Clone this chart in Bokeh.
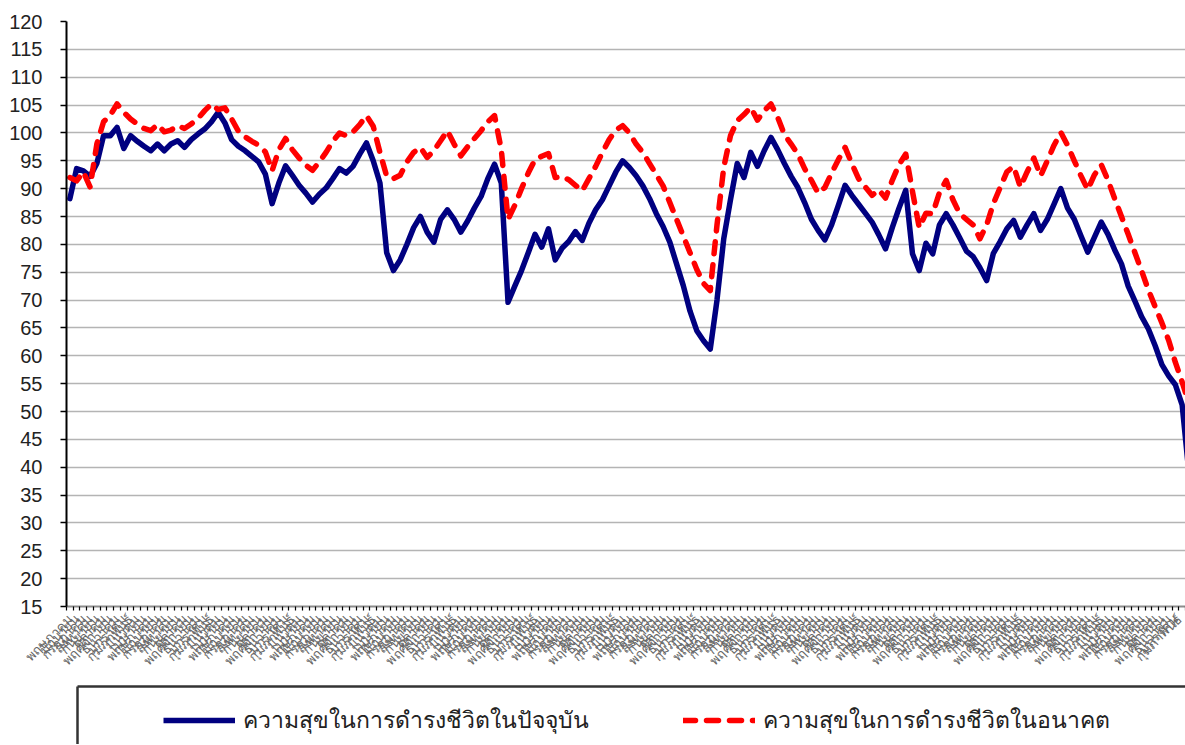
import math
from bokeh.plotting import figure
from bokeh.models import FixedTicker, Legend, LegendItem, Range1d
from bokeh.layouts import column
from bokeh.embed import file_html
from bokeh.resources import INLINE

thai_months = ["มกราคม", "กุมภาพันธ์", "มีนาคม", "เมษายน", "พฤษภาคม", "มิถุนายน",
               "กรกฎาคม", "สิงหาคม", "กันยายน", "ตุลาคม", "พฤศจิกายน", "ธันวาคม"]
first_month = 4  # series starts in May

current_happiness = [
    88.2, 93.6, 93.2, 92.2, 94.5, 99.5, 99.5, 101.0, 97.2, 99.5,
    98.5, 97.6, 96.8, 98.0, 96.8, 98.0, 98.6, 97.4, 98.8, 99.8,
    100.7, 102.0, 103.7, 101.8, 98.8, 97.6, 96.8, 95.8, 94.8, 92.6,
    87.3, 91.0, 94.1, 92.4, 90.6, 89.2, 87.6, 89.0, 90.1, 91.8,
    93.6, 92.8, 94.0, 96.2, 98.2, 95.0, 91.0, 78.5, 75.3, 77.2,
    80.0, 83.0, 85.0, 82.2, 80.4, 84.5, 86.2, 84.5, 82.2, 84.2,
    86.5, 88.6, 91.8, 94.4, 91.0, 69.6, 72.5, 75.3, 78.5, 81.8,
    79.5, 82.8, 77.2, 79.3, 80.5, 82.3, 80.7, 83.8, 86.2, 88.0,
    90.5, 93.0, 95.0, 93.8, 92.3, 90.5, 88.2, 85.5, 83.2, 80.4,
    76.5, 72.6, 68.0, 64.5, 62.7, 61.2, 70.0, 81.0, 88.0, 94.5,
    92.0, 96.5, 94.0, 96.8, 99.2, 97.0, 94.5, 92.2, 90.2, 87.5,
    84.5, 82.5, 80.8, 83.5, 87.0, 90.6, 88.8, 87.2, 85.6, 84.0,
    81.7, 79.2, 83.0, 86.5, 89.7, 78.3, 75.3, 80.2, 78.3, 83.5,
    85.5, 83.5, 81.2, 78.8, 77.8, 75.8, 73.5, 78.4, 80.5, 82.8,
    84.3, 81.3, 83.5, 85.5, 82.5, 84.5, 87.2, 90.0, 86.5, 84.5,
    81.5, 78.6, 81.3, 84.0, 81.8, 79.0, 76.5, 72.5, 69.8, 67.0,
    64.8, 61.8, 58.4, 56.4, 54.8, 51.2, 39.0,
]

future_happiness = [
    92.0, 91.4, 93.0, 90.3, 98.0, 102.0, 103.2, 105.2, 103.7, 102.5,
    101.6, 100.8, 100.4, 101.5, 100.2, 100.5, 101.3, 100.8, 101.6, 102.6,
    104.0, 105.2, 104.2, 104.5, 102.5, 100.3, 99.3, 98.5, 97.8, 96.6,
    93.2, 97.0, 99.0, 97.0, 95.5, 94.2, 93.3, 94.8, 96.5, 98.5,
    100.0, 99.5, 100.2, 101.5, 103.1, 101.2, 96.5, 92.2, 91.8, 92.4,
    94.8, 96.5, 97.4, 95.6, 96.8, 98.6, 100.4, 98.0, 95.9, 97.5,
    99.0, 100.4, 102.0, 103.1, 97.0, 84.5, 87.0, 90.0, 92.8, 95.2,
    95.8, 96.3, 92.0, 92.2, 91.6, 90.6, 89.6, 91.8, 94.0, 96.5,
    98.8, 100.5, 101.3, 100.0, 98.0, 96.5, 94.5, 92.5, 90.5, 87.5,
    84.5, 81.5, 78.5, 75.5, 73.0, 71.7, 83.5, 93.8, 99.5, 102.2,
    103.3, 104.6, 102.3, 104.0, 105.2, 102.8, 99.7, 98.0, 96.2, 93.6,
    91.5, 89.2, 90.2, 92.8, 95.2, 97.4, 94.5, 91.8, 90.3, 88.8,
    89.8, 88.3, 91.5, 94.3, 96.2, 89.5, 83.0, 85.6, 85.5, 89.3,
    91.5, 88.0, 85.5, 84.5, 83.5, 81.0, 83.5, 87.3, 90.2, 93.0,
    94.0, 90.3, 93.0, 95.5, 92.3, 95.0, 97.8, 100.1, 97.8, 95.0,
    92.3, 89.8, 92.5, 94.3, 91.5, 88.2, 85.0, 81.8, 78.5, 75.2,
    71.8, 68.8, 65.9, 62.8, 58.8, 55.3, 51.5,
]

legend_labels = ["ความสุขในการดำรงชีวิตในปัจจุบัน", "ความสุขในการดำรงชีวิตในอนาคต"]
y_ticks = list(range(15, 121, 5))

n = len(current_happiness)
idx = list(range(n))
month_labels = [thai_months[(first_month + i) % 12] for i in range(n)]
n_visible = 166

BLUE = "#000080"
RED = "#ff0000"
THAI_FONT = "Noto Sans"
W = 1185
LEFT = 66
FRAME_W = W - LEFT

p = figure(width=W, height=680, output_backend="svg", toolbar_location=None,
           x_range=Range1d(-0.5, n_visible - 0.5), y_range=Range1d(15, 120),
           min_border_left=LEFT, min_border_right=0, min_border_top=21, min_border_bottom=74)
p.outline_line_color = None
p.background_fill_color = "white"

p.line(idx, current_happiness, line_color=BLUE, line_width=5.5, line_join="round", line_cap="round")
p.line(idx, future_happiness, line_color=RED, line_width=5.5, line_dash="12 11",
       line_join="round", line_cap="round")

# grid
p.xgrid.grid_line_color = None
p.ygrid.grid_line_color = "#b4b4b4"
p.ygrid.grid_line_width = 1.6

# y axis
p.yaxis.ticker = FixedTicker(ticks=y_ticks)
p.yaxis.axis_line_color = "black"
p.yaxis.axis_line_width = 2
p.yaxis.major_tick_line_color = "black"
p.yaxis.major_tick_line_width = 1.5
p.yaxis.major_tick_out = 6
p.yaxis.major_tick_in = 0
p.yaxis.minor_tick_line_color = None
p.yaxis.major_label_standoff = 18
p.yaxis.major_label_text_font = "Liberation Sans"
p.yaxis.major_label_text_font_size = "20px"
p.yaxis.major_label_text_color = "#222222"

# x axis
p.xaxis.ticker = FixedTicker(ticks=list(range(n_visible)),
                             minor_ticks=[i - 0.5 for i in range(n_visible + 1)])
p.xaxis.major_label_overrides = {i: month_labels[i] for i in range(n_visible)}
p.xaxis.major_label_orientation = math.pi / 4
p.xaxis.major_label_text_font = THAI_FONT
p.xaxis.major_label_text_font_size = "13px"
p.xaxis.major_label_text_color = "#666666"
p.xaxis.major_label_standoff = 4
p.xaxis.axis_line_color = "#8c8c8c"
p.xaxis.axis_line_width = 2
p.xaxis.major_tick_line_color = None
p.xaxis.minor_tick_line_color = "black"
p.xaxis.minor_tick_line_width = 1.2
p.xaxis.minor_tick_out = 4
p.xaxis.minor_tick_in = 0

# legend panel (frame aligned with the chart frame; 1 data unit = 1 px)
LG_H = 64
lg = figure(width=W, height=LG_H, output_backend="svg", toolbar_location=None,
            x_range=Range1d(0, FRAME_W), y_range=Range1d(0, LG_H),
            min_border_left=LEFT, min_border_right=0, min_border_top=0, min_border_bottom=0)
lg.axis.visible = False
lg.grid.visible = False
lg.outline_line_color = None
lg.segment(x0=[11, 11], y0=[58, 0], x1=[FRAME_W, 11], y1=[58, 58],
           line_color="#333333", line_width=2.5)
r1 = lg.line(x=[-20, -10], y=[-20, -20], line_color=BLUE, line_width=5.5)
r2 = lg.line(x=[-20, -10], y=[-20, -20], line_color=RED, line_width=5.5,
             line_dash="12 11", line_cap="round")
legend = Legend(items=[LegendItem(label=legend_labels[0], renderers=[r1]),
                       LegendItem(label=legend_labels[1], renderers=[r2])],
                orientation="horizontal", location=(97, 6),
                glyph_width=72, glyph_height=20, label_standoff=8, label_width=420,
                spacing=20, padding=0, margin=0,
                border_line_color=None, background_fill_alpha=0,
                label_text_font=THAI_FONT, label_text_font_size="23px",
                label_text_color="#222222")
lg.add_layout(legend)

layout = column(p, lg, spacing=0)
open("out.html", "w").write(file_html(layout, INLINE))
